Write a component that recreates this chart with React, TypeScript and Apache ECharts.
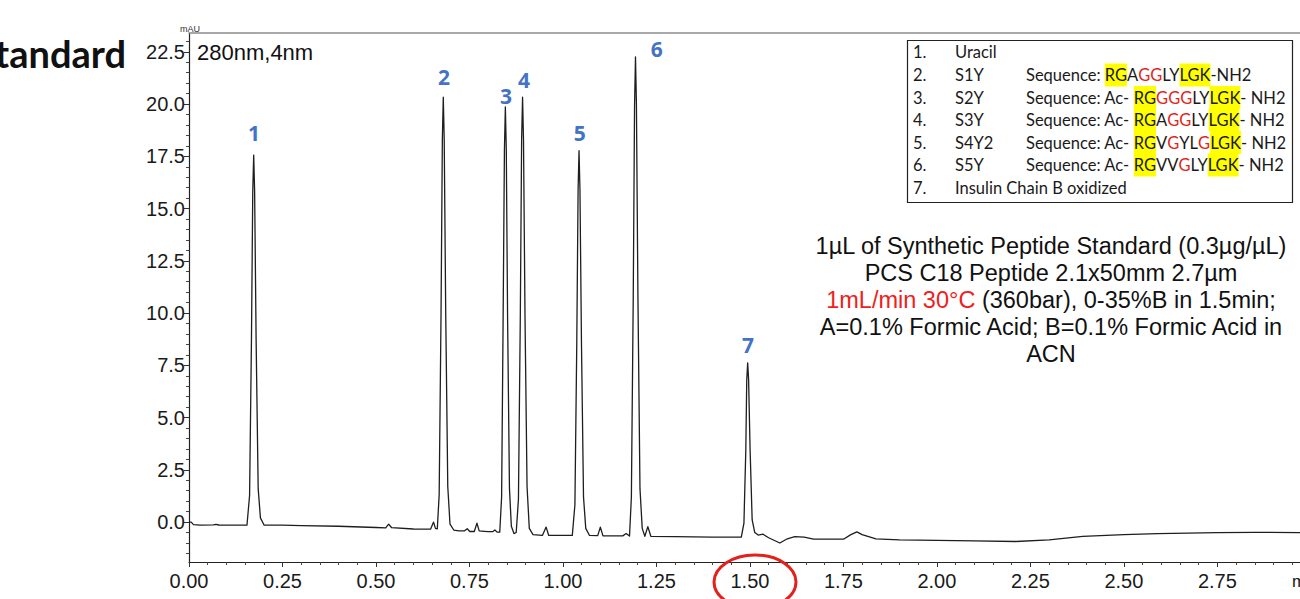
import React, { useEffect, useRef } from "react";
import * as echarts from "echarts";

// Chromatogram trace: retention time (min) and absorbance (mAU)
const retentionTime = [
  0.0, 0.006, 0.012, 0.03, 0.065, 0.072, 0.08, 0.12, 0.155,
  0.162, 0.167, 0.1705, 0.173, 0.1755, 0.1795, 0.185, 0.191, 0.201,
  0.25, 0.3, 0.4, 0.5, 0.526, 0.534, 0.542, 0.6, 0.646, 0.654, 0.659,
  0.664, 0.669, 0.674, 0.6775, 0.68, 0.6825, 0.6865, 0.692, 0.698, 0.708,
  0.722, 0.737, 0.744, 0.751, 0.763, 0.77, 0.776, 0.79, 0.8, 0.812, 0.818, 0.824,
  0.831, 0.836, 0.84, 0.8435, 0.846, 0.8485, 0.852, 0.857, 0.862, 0.869,
  0.875, 0.881, 0.886, 0.8895, 0.892, 0.8945, 0.8985, 0.904, 0.91, 0.92,
  0.945, 0.955, 0.962, 1.0,
  1.025, 1.032, 1.037, 1.0405, 1.043, 1.0455, 1.0495, 1.055, 1.061, 1.071,
  1.093, 1.1, 1.107, 1.16, 1.169, 1.178,
  1.183, 1.188, 1.1915, 1.194, 1.1965, 1.2005, 1.206, 1.212, 1.219,
  1.227, 1.235, 1.3, 1.4, 1.477,
  1.484, 1.489, 1.4915, 1.494, 1.4965, 1.5005, 1.506, 1.513, 1.522,
  1.535, 1.55, 1.58, 1.6, 1.62, 1.645, 1.67, 1.75, 1.77, 1.786, 1.8, 1.837,
  1.9, 2.0, 2.1, 2.21, 2.3, 2.39, 2.5, 2.59, 2.75, 2.85, 2.971,
];
const absorbance = [
  0.0, 0.0, -0.12, -0.15, -0.13, -0.11, -0.14, -0.15, -0.15,
  1.27, 8.7, 15.8, 17.56, 15.8, 8.7, 1.6, 0.2, -0.15,
  -0.15, -0.17, -0.2, -0.26, -0.28, -0.1, -0.27, -0.33, -0.34, 0.0, -0.3,
  -0.32, 1.3, 10.0, 18.3, 20.33, 18.3, 10.0, 1.7, -0.1, -0.38,
  -0.42, -0.42, -0.32, -0.45, -0.45, -0.05, -0.42, -0.44, -0.46, -0.46, -0.38, -0.48,
  -0.48, 1.2, 9.7, 17.8, 19.86, 17.8, 9.7, 1.6, -0.2, -0.55,
  -0.5, 1.1, 9.9, 18.3, 20.33, 18.3, 9.9, 1.7, -0.3, -0.6,
  -0.64, -0.24, -0.64, -0.64,
  -0.64, 0.83, 8.6, 15.9, 17.77, 15.9, 8.6, 1.2, -0.3, -0.64,
  -0.65, -0.24, -0.66, -0.66, -0.55, -0.67,
  1.2, 10.8, 19.97, 22.26, 19.97, 10.8, 1.6, -0.3, -0.68,
  -0.22, -0.68, -0.7, -0.72, -0.72,
  -0.05, 3.45, 6.8, 7.62, 6.8, 3.45, 0.1, -0.5, -0.62,
  -0.58, -0.75, -1.0, -0.8, -0.7, -0.72, -0.82, -0.82, -0.6, -0.47, -0.6, -0.8,
  -0.85, -0.88, -0.9, -0.93, -0.85, -0.68, -0.6, -0.55, -0.5, -0.49, -0.5,
];

// Peak number annotations (placed in data units above each peak)
const peakNumbers = ["1", "2", "3", "4", "5", "6", "7"];
const peakLabelTime = [0.174, 0.682, 0.848, 0.896, 1.045, 1.251, 1.495];
const peakLabelMAU = [18.6, 21.3, 20.4, 21.15, 18.6, 22.65, 8.45];

// Axis ticks
const xMajorTicks = [0, 0.25, 0.5, 0.75, 1.0, 1.25, 1.5, 1.75, 2.0, 2.25, 2.5, 2.75];
const yMajorTicks = [0, 2.5, 5, 7.5, 10, 12.5, 15, 17.5, 20, 22.5];
const X_MIN = 0;
const X_MAX = 2.971;
const Y_MIN = -1.91;
const Y_MAX = 23.4;

// Legend table
const legendIndex = ["1.", "2.", "3.", "4.", "5.", "6.", "7."];
const legendNames = ["Uracil", "S1Y", "S2Y", "S3Y", "S4Y2", "S5Y", "Insulin Chain B oxidized"];
// segments: [text, style]  b = black, r = red, hl = yellow highlight
const legendSequences: [string, string][][] = [
  [],
  [["Sequence: ", "b"], ["RG", "hl"], ["A", "b"], ["GG", "r"], ["LY", "b"], ["LGK", "hl"], ["-NH2", "b"]],
  [["Sequence: Ac- ", "b"], ["RG", "hl"], ["GGG", "r"], ["LY", "b"], ["LGK", "hl"], ["- NH2", "b"]],
  [["Sequence: Ac- ", "b"], ["RG", "hl"], ["A", "b"], ["GG", "r"], ["LY", "b"], ["LGK", "hl"], ["- NH2", "b"]],
  [["Sequence: Ac- ", "b"], ["RG", "hl"], ["V", "b"], ["G", "r"], ["YL", "b"], ["G", "r"], ["LGK", "hl"], ["- NH2", "b"]],
  [["Sequence: Ac- ", "b"], ["RG", "hl"], ["VV", "b"], ["G", "r"], ["LY", "b"], ["LGK", "hl"], ["- NH2", "b"]],
  [],
];

// Method annotation
const methodLines: [string, string][][] = [
  [["1µL of Synthetic Peptide Standard (0.3µg/µL)", "k"]],
  [["PCS C18 Peptide 2.1x50mm 2.7µm", "k"]],
  [["1mL/min 30°C", "r"], [" (360bar), 0-35%B in 1.5min;", "k"]],
  [["A=0.1% Formic Acid; B=0.1% Formic Acid in", "k"]],
  [["ACN", "k"]],
];

const TEXT_FONT = "'Liberation Sans', Arial, sans-serif";
const CAL_FONT = "Lato, 'Open Sans', sans-serif";
const BOLD_FONT = "'Open Sans', 'Noto Sans', sans-serif";
const LEG_SIZE = 16.5;

function minorTicks(min: number, max: number, step: number, majorStep: number) {
  const out: number[] = [];
  const start = Math.ceil(min / step - 1e-9);
  const end = Math.floor(max / step + 1e-9);
  for (let i = start; i <= end; i++) {
    const v = +(i * step).toFixed(4);
    const r = v / majorStep;
    if (Math.abs(r - Math.round(r)) > 1e-6) out.push(v);
  }
  return out;
}

export default function App() {
  const ref = useRef<HTMLDivElement>(null);
  useEffect(() => {
    document.body.style.margin = "0";
    const chart = echarts.init(ref.current!, null, { renderer: "svg" });

    const trace = retentionTime.map((t, i) => [t, absorbance[i]]);
    const peakLabels = peakNumbers.map((n, i) => ({
      name: n,
      value: [peakLabelTime[i], peakLabelMAU[i]],
    }));

    const legendRowY = [52, 75, 97.5, 120, 142.5, 165, 188];
    const legendRich = {
      b: { fill: "#1a1a1a", fontSize: LEG_SIZE, fontFamily: CAL_FONT, lineHeight: 23 },
      sp: { fill: "#1a1a1a", fontSize: LEG_SIZE, fontFamily: CAL_FONT, lineHeight: 23, width: 14 },
      r: { fill: "#E3241B", fontSize: LEG_SIZE, fontFamily: CAL_FONT, lineHeight: 23 },
      hl: {
        fill: "#1a1a1a",
        fontSize: LEG_SIZE,
        fontFamily: CAL_FONT,
        lineHeight: 23,
        height: 23,
        backgroundColor: "#FFFF00",
      },
    };
    const legendElements: any[] = [
      {
        type: "rect",
        shape: { x: 907.5, y: 40.5, width: 385, height: 162 },
        style: { fill: "#fff", stroke: "#222", lineWidth: 1.2 },
        z: 10,
      },
    ];
    legendIndex.forEach((idx, i) => {
      legendElements.push({
        type: "text",
        x: 913,
        y: legendRowY[i],
        z: 11,
        style: { text: idx, fill: "#1a1a1a", fontSize: LEG_SIZE, fontFamily: CAL_FONT, verticalAlign: "middle" },
      });
      legendElements.push({
        type: "text",
        x: 955,
        y: legendRowY[i],
        z: 11,
        style: { text: legendNames[i], fill: "#1a1a1a", fontSize: LEG_SIZE, fontFamily: CAL_FONT, verticalAlign: "middle" },
      });
      const segs = legendSequences[i];
      if (segs.length) {
        legendElements.push({
          type: "text",
          x: 1026,
          y: legendRowY[i],
          z: 11,
          style: {
            text: segs.map(([t, s]) => `{${s}|${t}}`).join(""),
            rich: legendRich,
            fontSize: LEG_SIZE,
            fontFamily: CAL_FONT,
            verticalAlign: "middle",
          },
        });
      }
    });

    const methodRich = {
      k: { fill: "#111111", fontSize: 23.5, fontFamily: TEXT_FONT },
      r: { fill: "#F0201A", fontSize: 23.5, fontFamily: TEXT_FONT },
    };
    const methodY = [246, 273, 300, 327, 354];
    const methodElements = methodLines.map((segs, i) => ({
      type: "text",
      x: 1051,
      y: methodY[i],
      z: 11,
      style: {
        text: segs.map(([t, s]) => `{${s}|${t}}`).join(""),
        rich: methodRich,
        fontSize: 23.5,
        fontFamily: TEXT_FONT,
        align: "center",
        verticalAlign: "middle",
      },
    }));

    const option: any = {
      animation: false,
      backgroundColor: "#ffffff",
      tooltip: { show: false },
      grid: {
        left: 189,
        right: 0,
        top: 33,
        bottom: 37,
        containLabel: false,
        outerBoundsMode: "none",
      },
      xAxis: [
        {
          type: "value",
          min: X_MIN,
          max: X_MAX,
          position: "bottom",
          splitLine: { show: false },
          axisLine: { show: true, onZero: false, lineStyle: { color: "#222", width: 1.2 } },
          axisTick: {
            show: true,
            inside: false,
            length: 5,
            customValues: xMajorTicks,
            lineStyle: { color: "#333", width: 1 },
          },
          axisLabel: {
            show: true,
            customValues: xMajorTicks,
            margin: 9,
            fontSize: 20,
            fontFamily: TEXT_FONT,
            color: "#1a1a1a",
            formatter: (v: number) => v.toFixed(2),
          },
        },
        {
          type: "value",
          min: X_MIN,
          max: X_MAX,
          position: "bottom",
          splitLine: { show: false },
          axisLine: { show: false, onZero: false },
          axisTick: {
            show: true,
            inside: false,
            length: 3,
            customValues: minorTicks(X_MIN, X_MAX, 0.05, 0.25),
            lineStyle: { color: "#444", width: 1 },
          },
          axisLabel: { show: false },
        },
        {
          type: "value",
          min: X_MIN,
          max: X_MAX,
          position: "top",
          splitLine: { show: false },
          axisLine: { show: true, onZero: false, lineStyle: { color: "#8c8c8c", width: 1.5 } },
          axisTick: { show: false },
          axisLabel: { show: false },
        },
      ],
      yAxis: [
        {
          type: "value",
          min: Y_MIN,
          max: Y_MAX,
          position: "left",
          splitLine: { show: false },
          axisLine: { show: true, onZero: false, lineStyle: { color: "#222", width: 1.2 } },
          axisTick: {
            show: true,
            inside: false,
            length: 5,
            customValues: yMajorTicks,
            lineStyle: { color: "#333", width: 1 },
          },
          axisLabel: {
            show: true,
            customValues: yMajorTicks,
            margin: 4,
            fontSize: 20,
            fontFamily: TEXT_FONT,
            color: "#1a1a1a",
            formatter: (v: number) => v.toFixed(1),
          },
        },
        {
          type: "value",
          min: Y_MIN,
          max: Y_MAX,
          position: "left",
          splitLine: { show: false },
          axisLine: { show: false, onZero: false },
          axisTick: {
            show: true,
            inside: false,
            length: 3,
            customValues: minorTicks(Y_MIN, Y_MAX, 0.5, 2.5),
            lineStyle: { color: "#444", width: 1 },
          },
          axisLabel: { show: false },
        },
      ],
      series: [
        {
          type: "line",
          name: "280nm,4nm",
          data: trace,
          xAxisIndex: 0,
          yAxisIndex: 0,
          showSymbol: false,
          symbol: "none",
          smooth: false,
          lineStyle: { color: "#1e1e1e", width: 1.3, join: "round" },
          silent: true,
          z: 3,
        },
        {
          type: "scatter",
          name: "peaks",
          data: peakLabels,
          xAxisIndex: 0,
          yAxisIndex: 0,
          symbolSize: 0,
          itemStyle: { color: "#4472C4" },
          silent: true,
          label: {
            show: true,
            position: "inside",
            formatter: (p: any) => p.name,
            color: "#4472C4",
            opacity: 1,
            textBorderWidth: 0,
            fontSize: 21,
            fontWeight: "bold",
            fontFamily: BOLD_FONT,
          },
          z: 4,
        },
      ],
      graphic: [
        {
          type: "text",
          x: 126,
          y: 53,
          style: {
            text: "Standard",
            fill: "#111",
            fontSize: 38,
            fontWeight: "bold",
            fontFamily: CAL_FONT,
            align: "right",
            verticalAlign: "middle",
          },
        },
        {
          type: "text",
          x: 190,
          y: 29,
          style: { text: "mAU", fill: "#333333", fontSize: 9, fontFamily: TEXT_FONT, align: "center", verticalAlign: "middle" },
        },
        {
          type: "text",
          x: 197,
          y: 52,
          style: { text: "280nm,4nm", fill: "#111", fontSize: 22, fontFamily: TEXT_FONT, verticalAlign: "middle" },
        },
        {
          type: "text",
          x: 1292,
          y: 581,
          style: { text: "min", fill: "#1a1a1a", fontSize: 17, fontFamily: TEXT_FONT, verticalAlign: "middle" },
        },
        ...legendElements,
        ...methodElements,
        {
          type: "ellipse",
          shape: { cx: 755, cy: 582, rx: 41, ry: 27 },
          style: { fill: "none", stroke: "#E3201B", lineWidth: 3 },
          z: 12,
        },
      ],
    };

    chart.setOption(option);
    return () => chart.dispose();
  }, []);
  return <div ref={ref} style={{ width: 1300, height: 599 }} />;
}
